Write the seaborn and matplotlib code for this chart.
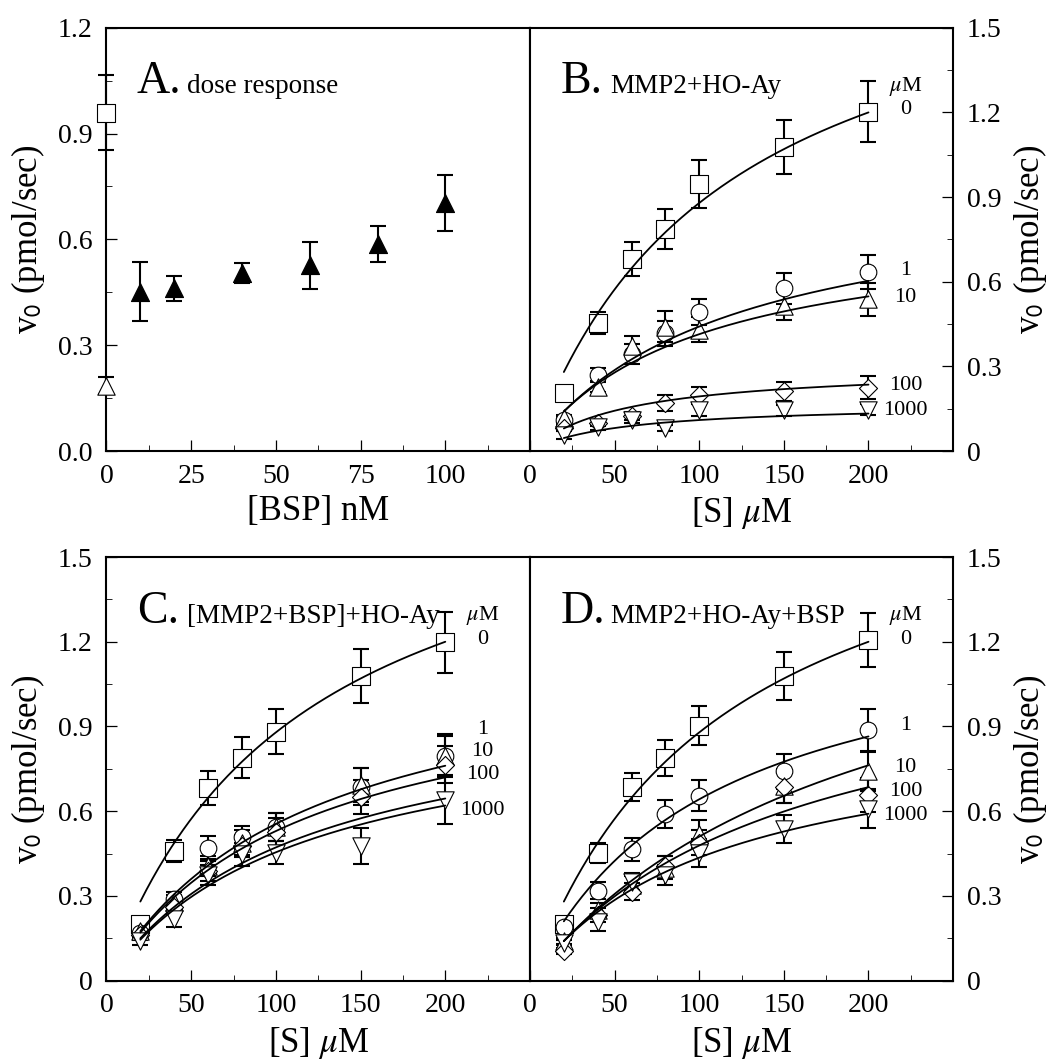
import numpy as np
import pandas as pd
import matplotlib
matplotlib.use("Agg")
import matplotlib.pyplot as plt
import seaborn as sns
from matplotlib.ticker import FixedLocator, FuncFormatter

# ---- panel A: dose response ----
bsp_nM = [10, 20, 40, 60, 80, 100]
bsp_v0 = [0.452, 0.461, 0.504, 0.526, 0.586, 0.703]
bsp_err = [0.084, 0.036, 0.029, 0.067, 0.051, 0.080]
ctrl_sq_v0, ctrl_sq_err = 0.959, 0.106      # open square at 0 nM
ctrl_tri_v0, ctrl_tri_err = 0.185, 0.024    # open triangle at 0 nM

# ---- panels B-D: substrate curves ----
S_uM = [20, 40, 60, 80, 100, 150, 200]
inhib_labels = ["0", "1", "10", "100", "1000"]
markers = ["s", "o", "^", "D", "v"]
msizes = [12.5, 12.0, 12.5, 9.2, 12.5]

b_v0 = [
    [0.205, 0.453, 0.681, 0.787, 0.945, 1.077, 1.203],
    [0.110, 0.269, 0.345, 0.417, 0.493, 0.577, 0.635],
    [0.117, 0.228, 0.372, 0.440, 0.430, 0.513, 0.537],
    [0.081, 0.100, 0.125, 0.170, 0.198, 0.211, 0.225],
    [0.057, 0.086, 0.110, 0.081, 0.145, 0.144, 0.147],
]
b_err = [
    [0.015, 0.040, 0.060, 0.070, 0.085, 0.097, 0.108],
    [0.010, 0.025, 0.035, 0.045, 0.045, 0.055, 0.060],
    [0.010, 0.020, 0.035, 0.055, 0.045, 0.050, 0.060],
    [0.010, 0.010, 0.015, 0.028, 0.030, 0.035, 0.040],
    [0.015, 0.010, 0.010, 0.010, 0.020, 0.020, 0.020],
]
b_fit = [(1.89, 115), (0.953, 116), (0.81, 95.6), (0.30, 55), (0.168, 53)]
b_lab_y = [1.209, 0.639, 0.543, 0.231, 0.145]

c_v0 = [
    [0.200, 0.459, 0.681, 0.789, 0.881, 1.079, 1.199],
    [0.170, 0.288, 0.471, 0.507, 0.543, 0.687, 0.797],
    [0.177, 0.280, 0.405, 0.489, 0.543, 0.693, 0.797],
    [0.160, 0.260, 0.387, 0.477, 0.525, 0.651, 0.765],
    [0.141, 0.220, 0.375, 0.447, 0.453, 0.477, 0.639],
]
c_err = [
    [0.015, 0.040, 0.060, 0.072, 0.080, 0.097, 0.108],
    [0.015, 0.025, 0.040, 0.040, 0.050, 0.065, 0.075],
    [0.015, 0.025, 0.035, 0.045, 0.050, 0.060, 0.070],
    [0.015, 0.025, 0.035, 0.040, 0.050, 0.060, 0.065],
    [0.015, 0.030, 0.035, 0.040, 0.040, 0.065, 0.085],
]
c_fit = [(1.89, 115), (1.21, 118), (1.123, 112), (1.019, 116), (0.975, 114.5)]
c_lab_y = [1.209, 0.888, 0.813, 0.729, 0.603]

d_v0 = [
    [0.200, 0.453, 0.685, 0.789, 0.903, 1.079, 1.205],
    [0.189, 0.318, 0.465, 0.591, 0.655, 0.741, 0.888],
    [0.141, 0.250, 0.340, 0.400, 0.520, 0.690, 0.741],
    [0.105, 0.231, 0.315, 0.405, 0.489, 0.685, 0.657],
    [0.135, 0.207, 0.351, 0.375, 0.453, 0.537, 0.609],
]
d_err = [
    [0.015, 0.035, 0.050, 0.063, 0.070, 0.086, 0.096],
    [0.015, 0.030, 0.040, 0.050, 0.056, 0.063, 0.075],
    [0.010, 0.025, 0.030, 0.040, 0.050, 0.060, 0.070],
    [0.010, 0.025, 0.030, 0.035, 0.045, 0.055, 0.060],
    [0.010, 0.030, 0.030, 0.035, 0.050, 0.050, 0.068],
]
d_fit = [(1.89, 115), (1.323, 106), (1.51, 196), (1.206, 152), (0.919, 111)]
d_lab_y = [1.209, 0.903, 0.753, 0.669, 0.585]

sns.set_theme(style="ticks")
plt.rcParams["font.family"] = ["Liberation Serif", "DejaVu Serif"]
plt.rcParams["mathtext.fontset"] = "stix"
plt.rcParams["axes.edgecolor"] = "black"
plt.rcParams["xtick.color"] = "black"
plt.rcParams["ytick.color"] = "black"
plt.rcParams["text.color"] = "black"
plt.rcParams["axes.labelcolor"] = "black"

YLABEL = r"v$_{\mathsf{0}}$ (pmol/sec)"
TICK_FS = 20
LABEL_FS = 25
SUB_FS = 19.5
CONC_FS = 16


def style_axis(ax, side, xmax, xmajor, ymax, ymajor, yfmt):
    ax.set_xlim(0, xmax)
    ax.set_ylim(0, ymax)
    ax.xaxis.set_major_locator(FixedLocator(xmajor))
    step = xmajor[1] - xmajor[0]
    ax.xaxis.set_minor_locator(FixedLocator([v + step / 2 for v in xmajor]))
    ax.yaxis.set_major_locator(FixedLocator(ymajor))
    ystep = ymajor[1] - ymajor[0]
    ax.yaxis.set_minor_locator(FixedLocator([v + ystep / 2 for v in ymajor[:-1]]))
    ax.yaxis.set_major_formatter(FuncFormatter(yfmt))
    for sp in ax.spines.values():
        sp.set_linewidth(1.5)
        sp.set_color("black")
    ax.tick_params(which="both", direction="in", top=False, bottom=True,
                   labelsize=TICK_FS, color="black")
    ax.tick_params(which="major", length=8, width=0.9)
    ax.tick_params(which="minor", length=4, width=0.6)
    ax.tick_params(axis="x", pad=9)
    if side == "left":
        ax.tick_params(axis="y", left=True, right=False, labelleft=True,
                       labelright=False, pad=10, which="both")
        ax.set_ylabel(YLABEL, fontsize=LABEL_FS, labelpad=8)
    else:
        ax.yaxis.tick_right()
        ax.yaxis.set_label_position("right")
        ax.tick_params(axis="y", left=False, right=True, labelleft=False,
                       labelright=True, pad=10, which="both")
        ax.set_ylabel(YLABEL, fontsize=LABEL_FS, labelpad=7)


def fmt_one(v, pos):
    return f"{v:.1f}"


def fmt_zero(v, pos):
    return "0" if abs(v) < 1e-9 else f"{v:.1f}"


def panel_title(ax, letter, title):
    ax.text(0.072, 0.845, letter, transform=ax.transAxes, fontsize=33,
            va="baseline", ha="left")
    ax.text(0.19, 0.845, title, transform=ax.transAxes, fontsize=SUB_FS,
            va="baseline", ha="left")


def kinetics_panel(ax, vals, errs, fits, lab_y):
    s_fit = np.linspace(20, 200, 200)
    for i in range(len(inhib_labels)):
        ax.errorbar(S_uM, vals[i], yerr=errs[i], fmt="none", ecolor="black",
                    elinewidth=1.5, capsize=5.5, capthick=1.5, zorder=2)
        df = pd.DataFrame({"S": S_uM, "v0": vals[i]})
        sns.scatterplot(data=df, x="S", y="v0", marker=markers[i],
                        s=msizes[i] ** 2, color="white", edgecolor="black",
                        linewidth=0.8, ax=ax, zorder=3 + i * 0.01)
    for i in range(len(inhib_labels)):
        vmax, km = fits[i]
        sns.lineplot(x=s_fit, y=vmax * s_fit / (km + s_fit), color="black",
                     linewidth=1.3, ax=ax, zorder=4)
    ax.text(222, 1.293, r"$\mu$M", ha="center", va="center", fontsize=CONC_FS)
    for lab, y in zip(inhib_labels, lab_y):
        ax.text(222, y, lab, ha="center", va="center", fontsize=CONC_FS)


fig = plt.figure(figsize=(10.52, 10.59), dpi=100)
axA = fig.add_axes([0.1012, 0.5741, 0.4026, 0.3997])
axB = fig.add_axes([0.5038, 0.5741, 0.4022, 0.3997])
axC = fig.add_axes([0.1012, 0.0740, 0.4026, 0.4000])
axD = fig.add_axes([0.5038, 0.0740, 0.4022, 0.4000])

# panel A
axA.errorbar(bsp_nM, bsp_v0, yerr=bsp_err, fmt="none", ecolor="black",
             elinewidth=1.5, capsize=5.5, capthick=1.5, zorder=2)
axA.errorbar([0, 0], [ctrl_sq_v0, ctrl_tri_v0], yerr=[ctrl_sq_err, ctrl_tri_err],
             fmt="none", ecolor="black", elinewidth=1.5, capsize=5.5,
             capthick=1.5, zorder=2, clip_on=False)
sns.scatterplot(x=bsp_nM, y=bsp_v0, marker="^", s=13 ** 2, color="black",
                edgecolor="black", linewidth=0.8, ax=axA, zorder=3)
sns.scatterplot(x=[0], y=[ctrl_sq_v0], marker="s", s=12.5 ** 2, color="white",
                edgecolor="black", linewidth=0.8, ax=axA, zorder=3, clip_on=False)
sns.scatterplot(x=[0], y=[ctrl_tri_v0], marker="^", s=12.5 ** 2, color="white",
                edgecolor="black", linewidth=0.8, ax=axA, zorder=3, clip_on=False)
style_axis(axA, "left", 125, [0, 25, 50, 75, 100], 1.2,
           [0, 0.3, 0.6, 0.9, 1.2], fmt_one)
axA.xaxis.set_minor_locator(FixedLocator([12.5, 37.5, 62.5, 87.5, 112.5]))
axA.set_xlabel("[BSP] nM", fontsize=LABEL_FS, labelpad=5)
panel_title(axA, "A.", "dose response")

# panels B, C, D
for ax, vals, errs, fits, laby, side, letter, title in [
    (axB, b_v0, b_err, b_fit, b_lab_y, "right", "B.", "MMP2+HO-Ay"),
    (axC, c_v0, c_err, c_fit, c_lab_y, "left", "C.", "[MMP2+BSP]+HO-Ay"),
    (axD, d_v0, d_err, d_fit, d_lab_y, "right", "D.", "MMP2+HO-Ay+BSP"),
]:
    kinetics_panel(ax, vals, errs, fits, laby)
    style_axis(ax, side, 250, [0, 50, 100, 150, 200], 1.5,
               [0, 0.3, 0.6, 0.9, 1.2, 1.5], fmt_zero)
    ax.set_xlabel(r"[S] $\mu$M", fontsize=LABEL_FS, labelpad=5)
    panel_title(ax, letter, title)

fig.savefig("out.png", dpi=100)
